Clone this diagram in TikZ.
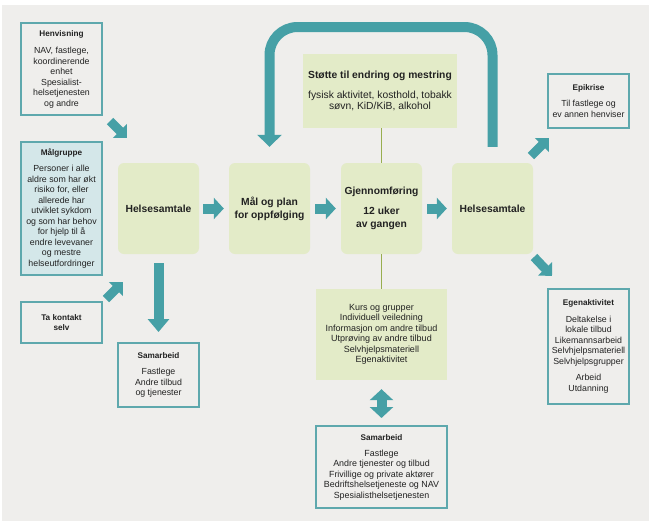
\documentclass[tikz,border=0pt]{standalone}
\usepackage{fontspec}
\setmainfont{Liberation Sans}
\usetikzlibrary{arrows.meta,calc}
\definecolor{bgc}{HTML}{EFEEEC}
\definecolor{tealc}{HTML}{46A0A6}
\definecolor{tealb}{HTML}{5EA8AD}
\definecolor{greenf}{HTML}{E3EBC8}
\definecolor{bluef}{HTML}{D4E7E9}
\definecolor{olive}{HTML}{98AE4F}
\definecolor{txt}{HTML}{222222}
\tikzset{
  infobox/.style={draw=tealb, line width=2pt, fill=bgc, text=txt, align=center, inner sep=0pt,
    font=\fontsize{8.8}{10.5}\selectfont},
  greenbox/.style={fill=greenf, rounded corners=6pt, text=txt, align=center, inner sep=0pt,
    font=\fontsize{10.3}{13}\selectfont\bfseries},
  squarebox/.style={fill=greenf, text=txt, align=center, inner sep=0pt},
  blockarrow/.style={draw=tealc, line width=10pt, -{Triangle[width=21pt,length=10pt]}},
  dblarrow/.style={draw=tealc, line width=10pt, {Triangle[width=23pt,length=11pt]}-{Triangle[width=23pt,length=11pt]}},
  looparrow/.style={draw=tealc, line width=10pt, rounded corners=28pt, -{Triangle[width=24pt,length=12pt]}},
  linkline/.style={draw=olive, line width=1.6pt},
}
\newcommand{\ttl}[1]{{\fontsize{8.2}{10}\selectfont\bfseries #1}}
\begin{document}
\begin{tikzpicture}[x=1pt,y=-1pt]
\useasboundingbox (0,0) rectangle (649,528);
\fill[bgc] (2,5) rectangle (649,521);

% left info boxes
\node[infobox, minimum width=81pt, minimum height=92pt] (henv) at (61.5,69)
  {\ttl{Henvisning}\\[7pt]NAV, fastlege,\\koordinerende\\enhet\\Spesialist-\\helsetjenesten\\og andre};
\node[infobox, fill=bluef, minimum width=81pt, minimum height=133pt] (malg) at (61.5,208.5)
  {\ttl{Målgruppe}\\[6pt]Personer i alle\\aldre som har økt\\risiko for, eller\\allerede har\\utviklet sykdom\\og som har behov\\for hjelp til å\\endre levevaner\\og mestre\\helseutfordringer};
\node[infobox, minimum width=81pt, minimum height=41pt] (kontakt) at (61.5,322.5)
  {\ttl{Ta kontakt}\\\ttl{selv}};
\node[infobox, minimum width=81pt, minimum height=64pt] (samL) at (158.5,375)
  {\ttl{Samarbeid}\\[6pt]Fastlege\\Andre tilbud\\og tjenester};

% main process boxes
\node[greenbox, minimum width=81pt, minimum height=91pt] (hs1) at (158.5,208.5) {Helsesamtale};
\node[greenbox, minimum width=81pt, minimum height=91pt] (mal) at (269.5,208.5) {Mål og plan\\for oppfølging};
\node[greenbox, minimum width=81pt, minimum height=91pt] (gjen) at (381.5,208.5) {Gjennomføring\\[7pt]12 uker\\av gangen};
\node[greenbox, minimum width=81pt, minimum height=91pt] (hs2) at (492.5,208.5) {Helsesamtale};

% support boxes
\node[squarebox, minimum width=154pt, minimum height=74pt, font=\fontsize{10.3}{11.5}\selectfont] (stotte) at (380,91)
  {\textbf{Støtte til endring og mestring}\\[8pt]fysisk aktivitet, kosthold, tobakk\\søvn, KiD/KiB, alkohol};
\node[squarebox, minimum width=131pt, minimum height=91pt, font=\fontsize{9}{10.5}\selectfont] (kurs) at (381.5,334.5)
  {Kurs og grupper\\Individuell veiledning\\Informasjon om andre tilbud\\Utprøving av andre tilbud\\Selvhjelpsmateriell\\Egenaktivitet};
\node[infobox, minimum width=131pt, minimum height=82pt, font=\fontsize{8.9}{10.4}\selectfont] (samB) at (381.5,467)
  {\ttl{Samarbeid}\\[6pt]Fastlege\\Andre tjenester og tilbud\\Frivillige og private aktører\\Bedriftshelsetjeneste og NAV\\Spesialisthelsetjenesten};

% right boxes
\node[infobox, minimum width=81pt, minimum height=54pt] (epi) at (588.5,101)
  {\ttl{Epikrise}\\[6pt]Til fastlege og\\ev annen henviser};
\node[infobox, minimum width=81pt, minimum height=115pt] (egen) at (588.5,346.5)
  {\ttl{Egenaktivitet}\\[6pt]Deltakelse i\\lokale tilbud\\Likemannsarbeid\\Selvhjelpsmateriell\\Selvhjelpsgrupper\\[6pt]Arbeid\\Utdanning};

% green links
\draw[linkline] (gjen.north) -- (gjen.north |- stotte.south);
\draw[linkline] (gjen.south) -- (gjen.south |- kurs.north);

% horizontal arrows
\draw[blockarrow, shorten <=4pt, shorten >=5pt] (hs1.east) -- (mal.west);
\draw[blockarrow, shorten <=5pt, shorten >=5pt] (mal.east) -- (gjen.west);
\draw[blockarrow, shorten <=5pt, shorten >=5pt] (gjen.east) -- (hs2.west);

% down arrow
\draw[blockarrow, -{Triangle[width=21pt,length=13pt]}, shorten <=9pt, shorten >=10pt] (hs1.south) -- (samL.north);

% double arrow
\draw[dblarrow, shorten <=9pt, shorten >=7pt] (kurs.south) -- (samB.north);

% diagonal arrows
\coordinate (a1s) at (110,121);
\coordinate (a1e) at (127,138);
\coordinate (a2s) at (106,299);
\coordinate (a2e) at (123,282);
\coordinate (a3s) at (531,156);
\coordinate (a3e) at (549,138);
\coordinate (a4s) at (534,257);
\coordinate (a4e) at (552,276);
\draw[blockarrow, -{Triangle[width=19pt,length=10pt]}, line width=9pt] (a1s) -- (a1e);
\draw[blockarrow, -{Triangle[width=19pt,length=10pt]}, line width=9pt] (a2s) -- (a2e);
\draw[blockarrow, -{Triangle[width=19pt,length=10pt]}, line width=9pt] (a3s) -- (a3e);
\draw[blockarrow, -{Triangle[width=19pt,length=10pt]}, line width=9pt] (a4s) -- (a4e);

% loop arrow
\coordinate (loopS) at ($(hs2.north)+(0,-16)$);
\coordinate (loopE) at ($(mal.north)+(0,-16)$);
\coordinate (loopTop) at (0,27);
\draw[looparrow] (loopS) -- (loopS |- loopTop) -- (loopE |- loopTop) -- (loopE);
\end{tikzpicture}
\end{document}
